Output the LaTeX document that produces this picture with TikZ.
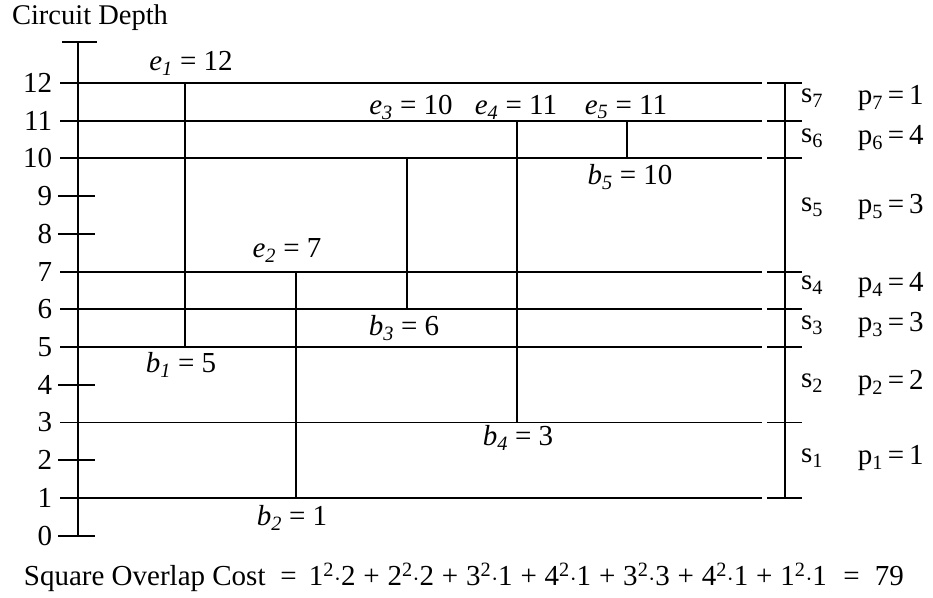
\documentclass[tikz,border=0pt]{standalone}
\usepackage{amsmath}
\usepackage{fontspec}
\setmainfont{Liberation Serif}
\newcommand{\sqterm}[2]{#1$^{\text{2}}$$\cdot$#2}
\newcommand{\plusop}{\hspace{0.27em}+\hspace{0.27em}}
\begin{document}
\begin{tikzpicture}[x=1pt,y=37.73pt,line width=1.9pt,
  lab/.style={font=\fontsize{29}{34}\selectfont,inner sep=0pt},
  big/.style={font=\fontsize{28.5}{34}\selectfont,inner sep=0pt}]
\useasboundingbox (0,-1.625) rectangle (933,14.198);
\node[big] (title) at (90,13.72) {Circuit Depth};
% left axis
\coordinate (a0) at (78,0);
\coordinate (atop) at (78,13.085);
\draw (a0) -- (atop);
\draw (62,13.085) -- (97,13.085);
\foreach \v in {0,2,4,8,9} \draw (58,\v) -- (95,\v);
\foreach \v in {0,...,12} \node[lab,anchor=east] (t\v) at (53,\v) {\v};
% level lines and right ticks
\foreach \v in {1,3,5,6,7,10,11,12} {
  \draw (60,\v) -- (762,\v);
  \draw (767,\v) -- (802,\v);
}
\coordinate (r1) at (785,1);
\coordinate (r12) at (785,12);
\draw (r1) -- (r12);
% intervals
\coordinate (e1) at (185,12); \coordinate (b1) at (185,5);
\coordinate (e2) at (296,7);  \coordinate (b2) at (296,1);
\coordinate (e3) at (407,10); \coordinate (b3) at (407,6);
\coordinate (e4) at (517,11); \coordinate (b4) at (517,3);
\coordinate (e5) at (627,11); \coordinate (b5) at (627,10);
\draw (e1) -- (b1);
\draw (e2) -- (b2);
\draw (e3) -- (b3);
\draw (e4) -- (b4);
\draw (e5) -- (b5);
% labels
\node[lab] (le1) at (191,12.52) {\textit{e}$_{\textit{1}}$ = 12};
\node[lab] (le2) at (287,7.57) {\textit{e}$_{\textit{2}}$ = 7};
\node[lab] (le3) at (411,11.36) {\textit{e}$_{\textit{3}}$ = 10};
\node[lab] (le4) at (516,11.36) {\textit{e}$_{\textit{4}}$ = 11};
\node[lab] (le5) at (626,11.36) {\textit{e}$_{\textit{5}}$ = 11};
\node[lab] (lb1) at (181,4.53) {\textit{b}$_{\textit{1}}$ = 5};
\node[lab] (lb2) at (292,0.47) {\textit{b}$_{\textit{2}}$ = 1};
\node[lab] (lb3) at (404,5.51) {\textit{b}$_{\textit{3}}$ = 6};
\node[lab] (lb4) at (518,2.59) {\textit{b}$_{\textit{4}}$ = 3};
\node[lab] (lb5) at (630,9.51) {\textit{b}$_{\textit{5}}$ = 10};
% segments
\foreach \i/\v/\p in {7/11.6/1,6/10.54/4,5/8.71/3,4/6.64/4,3/5.58/3,2/4.05/2,1/2.06/1} {
  \node[lab] (s\i) at (812,\v) {s$_{\text{\i}}$};
  \node[lab,anchor=west] (p\i) at (857,\v) {p$_{\text{\i}}$\,=\,\p};
}
% cost line
\node[lab,anchor=base west] (cost) at (23,-1.31) {Square Overlap Cost};
\node[lab,anchor=base] (eqa) at (288.5,-1.31) {=};
\node[lab,anchor=base west] (expr) at (308,-1.31) {\sqterm{1}{2}\plusop\sqterm{2}{2}\plusop\sqterm{3}{1}\plusop\sqterm{4}{1}\plusop\sqterm{3}{3}\plusop\sqterm{4}{1}\plusop\sqterm{1}{1}};
\node[lab,anchor=base] (eqb) at (851.5,-1.31) {=};
\node[lab,anchor=base west] (total) at (874,-1.31) {79};
\end{tikzpicture}
\end{document}
